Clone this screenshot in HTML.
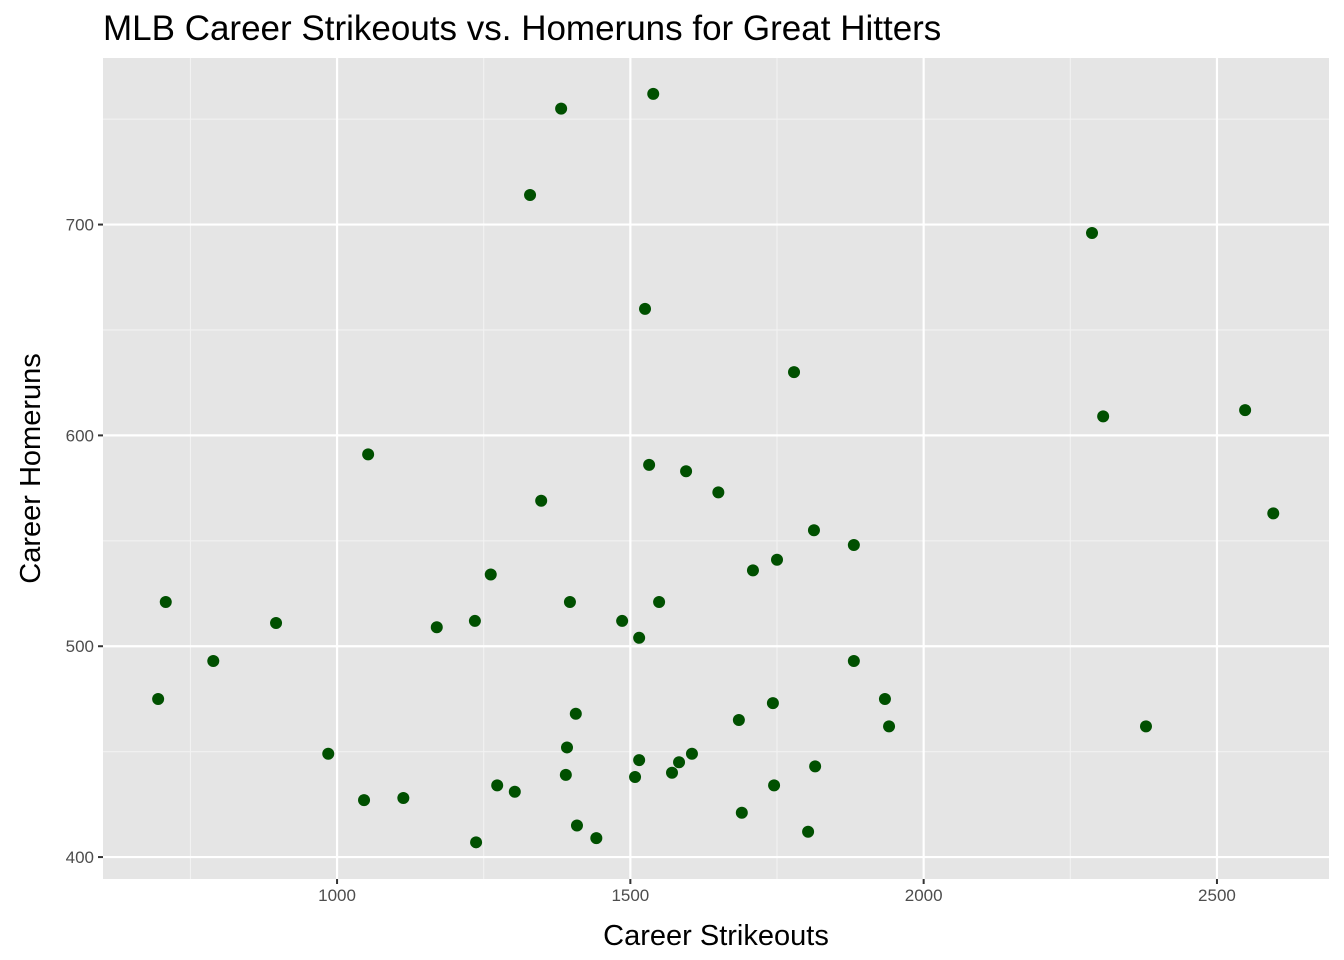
<!DOCTYPE html>
<html><head><meta charset="utf-8">
<style>
html,body{margin:0;padding:0;background:#fff;}
svg{display:block;font-family:"Liberation Sans",Arial,sans-serif;}
</style></head>
<body>
<svg id="chart" width="1344" height="960"></svg>
<script>
const strikeouts = [1382,1539,1329,2287,1525,1779,2306,2548,1053,1532,1595,1650,1348,2596,1813,1881,1750,1709,1262,708,1397,1549,896,1235,1486,1170,1515,789,1881,695,1934,1743,1407,1685,1941,2379,1392,985,1605,1515,1583,1815,1390,1571,1508,1273,1745,1303,1113,1046,1690,1409,1803,1442,1237];
const homeruns = [755,762,714,696,660,630,609,612,591,586,583,573,569,563,555,548,541,536,534,521,521,521,511,512,512,509,504,493,493,475,475,473,468,465,462,462,452,449,449,446,445,443,439,440,438,434,434,431,428,427,421,415,412,409,407];
const xTicks = [1000,1500,2000,2500];
const xMinor = [750,1250,1750,2250];
const yTicks = [400,500,600,700];
const yMinor = [450,550,650,750];

const L=103,R=1329,T=58,B=879;
const xDom=[601,2691], yDom=[389.6,779];
const sx=v=>L+(v-xDom[0])/(xDom[1]-xDom[0])*(R-L);
const sy=v=>B-(v-yDom[0])/(yDom[1]-yDom[0])*(B-T);
const NS="http://www.w3.org/2000/svg";
const svg=document.getElementById('chart');
function mk(tag,attrs,parent){const e=document.createElementNS(NS,tag);for(const k in attrs)e.setAttribute(k,attrs[k]);(parent||svg).appendChild(e);return e;}

const panel=mk('rect',{x:L,y:T,width:R-L,height:B-T,fill:'#e5e5e5'});



xMinor.forEach(v=>{const l=mk('line',{x1:sx(v),x2:sx(v),y1:T,y2:B,stroke:'#f2f2f2','stroke-width':1.1});

});
yMinor.forEach(v=>{const l=mk('line',{x1:L,x2:R,y1:sy(v),y2:sy(v),stroke:'#f2f2f2','stroke-width':1.1});

});
xTicks.forEach(v=>{const l=mk('line',{x1:sx(v),x2:sx(v),y1:T,y2:B,stroke:'#fff','stroke-width':2.2});


const tk=mk('line',{x1:sx(v),x2:sx(v),y1:B,y2:B+5,stroke:'#333','stroke-width':2});


const t=mk('text',{x:sx(v),y:B+22,'text-anchor':'middle','font-size':17,fill:'#4d4d4d'});t.textContent=v;

});
yTicks.forEach(v=>{const l=mk('line',{x1:L,x2:R,y1:sy(v),y2:sy(v),stroke:'#fff','stroke-width':2.2});


const tk=mk('line',{x1:L-5,x2:L,y1:sy(v),y2:sy(v),stroke:'#333','stroke-width':2});


const t=mk('text',{x:L-9,y:sy(v)+6,'text-anchor':'end','font-size':17,fill:'#4d4d4d'});t.textContent=v;

});

strikeouts.forEach((s,i)=>{const c=mk('circle',{cx:sx(s),cy:sy(homeruns[i]),r:6,fill:'#005000'});

});

const title=mk('text',{x:103,y:40,'font-size':35,fill:'#000'});title.textContent='MLB Career Strikeouts vs. Homeruns for Great Hitters';


const xt=mk('text',{x:(L+R)/2,y:945,'text-anchor':'middle','font-size':29,fill:'#000'});xt.textContent='Career Strikeouts';


const yt=mk('text',{x:0,y:0,'text-anchor':'middle','font-size':29,fill:'#000',transform:`translate(40,${(T+B)/2}) rotate(-90)`});yt.textContent='Career Homeruns';


</script>
</body></html>
